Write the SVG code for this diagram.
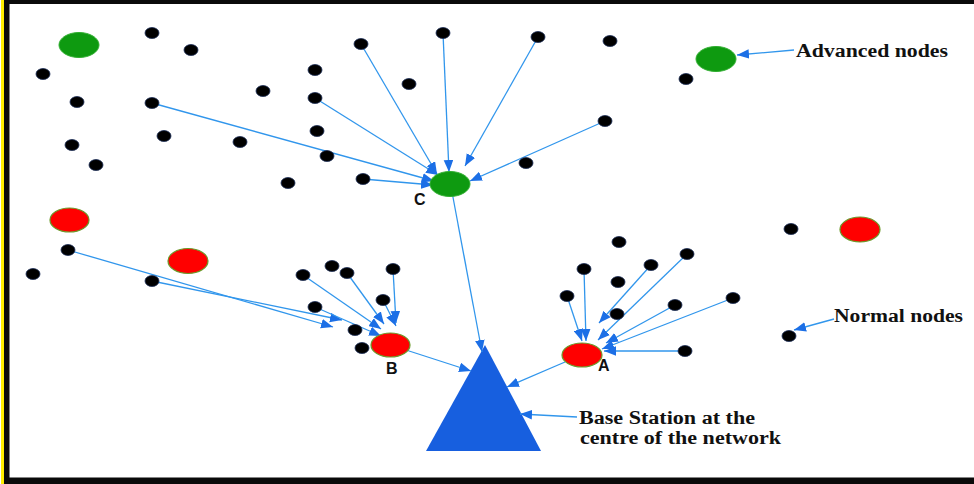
<svg xmlns="http://www.w3.org/2000/svg" width="974" height="484" viewBox="0 0 974 484">
<defs>
<style>
.n{fill:#000;stroke:#1b2c55;stroke-width:0.8}
.g{fill:#0e9a10;stroke:#2fae2f;stroke-width:1}
.r{fill:#ff0000;stroke:#6b9a2a;stroke-width:1.2}
.c line{stroke:#3196ec;stroke-width:1.3;marker-end:url(#ah)}
.lbl{font-family:"Liberation Serif","Times New Roman",serif;font-weight:bold;font-size:18px;fill:#111}
.id{font-family:"Liberation Sans",Arial,sans-serif;font-weight:bold;font-size:16px;fill:#111}
</style>
<marker id="ah" viewBox="0 0 10 8" refX="10" refY="4" markerWidth="12" markerHeight="10" markerUnits="userSpaceOnUse" orient="auto">
<path d="M0,0 L10,4 L0,8 Z" fill="#1c6fe6"/>
</marker>
</defs>
<rect x="0" y="0" width="974" height="484" fill="#fff"/>
<rect x="1" y="0" width="3" height="484" fill="#ffee00"/>
<rect x="4" y="0" width="5.5" height="484" fill="#0a0a0a"/>
<rect x="4" y="0" width="970" height="4" fill="#0a0a0a"/>
<rect x="4" y="477.5" width="970" height="6.5" fill="#0a0a0a"/>

<g id="base-station"><polygon points="485,345 426,451 541,451" fill="#175fdf"/></g>

<g id="connectors" class="c">
<line x1="361" y1="44" x2="437" y2="174"/>
<line x1="443" y1="33" x2="449" y2="172"/>
<line x1="538" y1="37" x2="465" y2="166"/>
<line x1="605" y1="121" x2="470" y2="181"/>
<line x1="315" y1="98" x2="438" y2="175"/>
<line x1="152" y1="103" x2="434" y2="181"/>
<line x1="363" y1="179" x2="433" y2="185"/>
<line x1="452" y1="192" x2="482" y2="352"/>
<line x1="68" y1="250" x2="333" y2="327"/>
<line x1="152" y1="281" x2="342" y2="320"/>
<line x1="315" y1="307" x2="381" y2="336"/>
<line x1="303" y1="275" x2="381" y2="329"/>
<line x1="347" y1="273" x2="384" y2="324"/>
<line x1="393" y1="269" x2="396" y2="323"/>
<line x1="383" y1="300" x2="396" y2="326"/>
<line x1="406" y1="350" x2="471" y2="371"/>
<line x1="584" y1="269" x2="586" y2="341"/>
<line x1="567" y1="296" x2="582" y2="341"/>
<line x1="651" y1="265" x2="599" y2="323"/>
<line x1="687" y1="254" x2="598" y2="340"/>
<line x1="675" y1="305" x2="606" y2="343"/>
<line x1="733" y1="298" x2="602" y2="349"/>
<line x1="685" y1="351" x2="604" y2="351"/>
<line x1="565" y1="362" x2="507" y2="387"/>
<line x1="794" y1="50" x2="737" y2="55"/>
<line x1="834" y1="319" x2="794" y2="330"/>
<line x1="577" y1="417" x2="520" y2="414"/>
</g>

<g id="normal-nodes">
<ellipse class="n" cx="152" cy="33" rx="7" ry="5.5"/>
<ellipse class="n" cx="191" cy="50" rx="7" ry="5.5"/>
<ellipse class="n" cx="43" cy="74" rx="7" ry="5.5"/>
<ellipse class="n" cx="77" cy="102" rx="7" ry="5.5"/>
<ellipse class="n" cx="152" cy="103" rx="7" ry="5.5"/>
<ellipse class="n" cx="164" cy="136" rx="7" ry="5.5"/>
<ellipse class="n" cx="72" cy="145" rx="7" ry="5.5"/>
<ellipse class="n" cx="96" cy="165" rx="7" ry="5.5"/>
<ellipse class="n" cx="240" cy="142" rx="7" ry="5.5"/>
<ellipse class="n" cx="263" cy="91" rx="7" ry="5.5"/>
<ellipse class="n" cx="315" cy="70" rx="7" ry="5.5"/>
<ellipse class="n" cx="315" cy="98" rx="7" ry="5.5"/>
<ellipse class="n" cx="317" cy="131" rx="7" ry="5.5"/>
<ellipse class="n" cx="327" cy="156" rx="7" ry="5.5"/>
<ellipse class="n" cx="288" cy="183" rx="7" ry="5.5"/>
<ellipse class="n" cx="363" cy="179" rx="7" ry="5.5"/>
<ellipse class="n" cx="361" cy="44" rx="7" ry="5.5"/>
<ellipse class="n" cx="443" cy="33" rx="7" ry="5.5"/>
<ellipse class="n" cx="409" cy="84" rx="7" ry="5.5"/>
<ellipse class="n" cx="538" cy="37" rx="7" ry="5.5"/>
<ellipse class="n" cx="610" cy="41" rx="7" ry="5.5"/>
<ellipse class="n" cx="686" cy="79" rx="7" ry="5.5"/>
<ellipse class="n" cx="605" cy="121" rx="7" ry="5.5"/>
<ellipse class="n" cx="526" cy="163" rx="7" ry="5.5"/>
<ellipse class="n" cx="791" cy="229" rx="7" ry="5.5"/>
<ellipse class="n" cx="619" cy="242" rx="7" ry="5.5"/>
<ellipse class="n" cx="68" cy="250" rx="7" ry="5.5"/>
<ellipse class="n" cx="33" cy="274" rx="7" ry="5.5"/>
<ellipse class="n" cx="152" cy="281" rx="7" ry="5.5"/>
<ellipse class="n" cx="303" cy="275" rx="7" ry="5.5"/>
<ellipse class="n" cx="332" cy="266" rx="7" ry="5.5"/>
<ellipse class="n" cx="347" cy="273" rx="7" ry="5.5"/>
<ellipse class="n" cx="393" cy="269" rx="7" ry="5.5"/>
<ellipse class="n" cx="383" cy="300" rx="7" ry="5.5"/>
<ellipse class="n" cx="315" cy="307" rx="7" ry="5.5"/>
<ellipse class="n" cx="355" cy="330" rx="7" ry="5.5"/>
<ellipse class="n" cx="362" cy="348" rx="7" ry="5.5"/>
<ellipse class="n" cx="584" cy="269" rx="7" ry="5.5"/>
<ellipse class="n" cx="651" cy="265" rx="7" ry="5.5"/>
<ellipse class="n" cx="687" cy="254" rx="7" ry="5.5"/>
<ellipse class="n" cx="618" cy="282" rx="7" ry="5.5"/>
<ellipse class="n" cx="567" cy="296" rx="7" ry="5.5"/>
<ellipse class="n" cx="675" cy="305" rx="7" ry="5.5"/>
<ellipse class="n" cx="733" cy="298" rx="7" ry="5.5"/>
<ellipse class="n" cx="617" cy="314" rx="7" ry="5.5"/>
<ellipse class="n" cx="685" cy="351" rx="7" ry="5.5"/>
<ellipse class="n" cx="789" cy="336" rx="7" ry="5.5"/>
</g>

<g id="advanced-nodes">
<ellipse class="g" cx="79" cy="45" rx="20" ry="12.5"/>
<ellipse class="g" cx="716" cy="59" rx="20" ry="12.5"/>
</g>
<g id="node-C">
<ellipse class="g" cx="450" cy="184" rx="20" ry="12.5"/>
<text class="id" x="414" y="205">C</text>
</g>
<g id="red-nodes">
<ellipse class="r" cx="69.5" cy="220" rx="19.5" ry="12"/>
<ellipse class="r" cx="188" cy="261" rx="20" ry="12.5"/>
<ellipse class="r" cx="860" cy="229.5" rx="20" ry="12.5"/>
</g>
<g id="node-B">
<ellipse class="r" cx="390.5" cy="345" rx="19.5" ry="12"/>
<text class="id" x="386" y="374">B</text>
</g>
<g id="node-A">
<ellipse class="r" cx="582" cy="355" rx="20" ry="12"/>
<text class="id" x="598" y="371">A</text>
</g>

<g id="labels">
<text class="lbl" x="796" y="57" textLength="152" lengthAdjust="spacingAndGlyphs">Advanced nodes</text>
<text class="lbl" x="834" y="322" textLength="129" lengthAdjust="spacingAndGlyphs">Normal nodes</text>
<text class="lbl" x="579" y="424" textLength="176" lengthAdjust="spacingAndGlyphs">Base Station at the</text>
<text class="lbl" x="580" y="444" textLength="201" lengthAdjust="spacingAndGlyphs">centre of the network</text>
</g>
</svg>
